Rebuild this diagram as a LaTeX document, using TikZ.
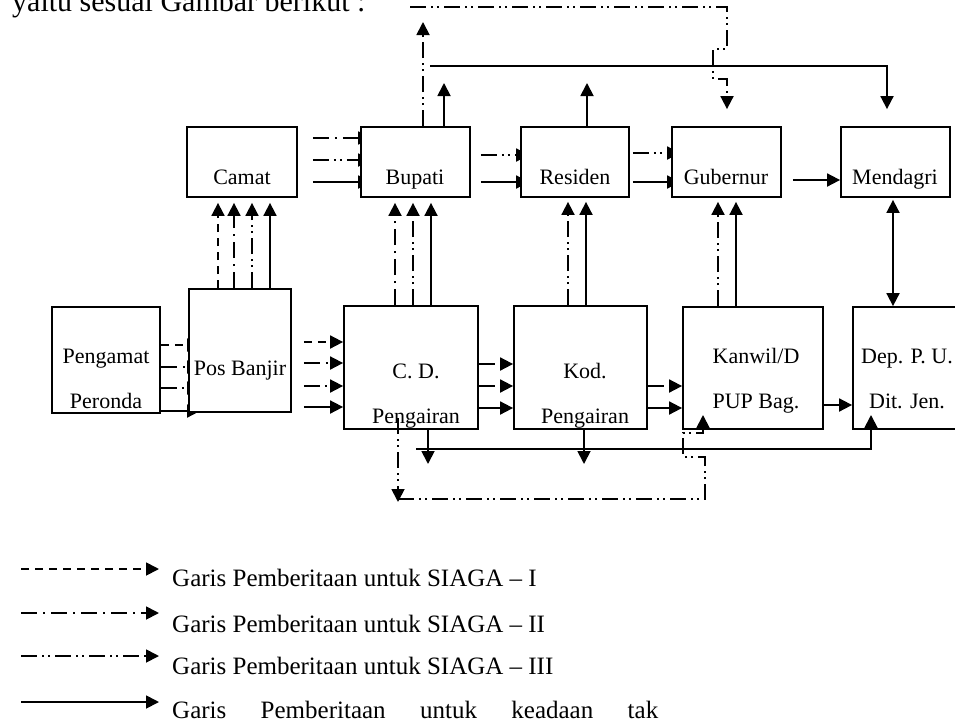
\documentclass[tikz,border=0pt]{standalone}
\usepackage{fontspec}
\setmainfont{Liberation Serif}
\usetikzlibrary{arrows.meta,backgrounds}
\begin{document}
\begin{tikzpicture}[x=1pt,y=-1pt,
  box/.style={draw, line width=1.8pt, fill=white, inner sep=0pt},
  lbl/.style={font=\fontsize{22}{26}\selectfont, anchor=base, inner sep=0pt},
  leg/.style={font=\fontsize{25}{30}\selectfont, anchor=base west, inner sep=0pt},
  ln/.style={line width=1.8pt},
  s0/.style={ln},
  s1/.style={ln, dash pattern=on 8pt off 6pt},
  s2/.style={ln, dash pattern=on 16pt off 6pt on 2pt off 6pt},
  s3/.style={ln, dash pattern=on 16pt off 5pt on 2pt off 4pt on 2pt off 5pt},
  arr/.style={-{Triangle[length=13pt,width=13pt]}},
  darr/.style={{Triangle[length=13pt,width=13pt]}-{Triangle[length=13pt,width=13pt]}}
]
\useasboundingbox (0,0) rectangle (955,726);

\node[anchor=base west, font=\fontsize{30}{36}\selectfont, inner sep=0pt] (intro) at (12,11) {yaitu sesuai Gambar berikut :};

% boxes
\node[box, minimum width=110pt, minimum height=70pt] (camat) at (242,162) {};
\node[box, minimum width=109pt, minimum height=70pt] (bupati) at (415.5,162) {};
\node[box, minimum width=108pt, minimum height=70pt] (residen) at (575,162) {};
\node[box, minimum width=109pt, minimum height=70pt] (gubernur) at (726.5,162) {};
\node[box, minimum width=109pt, minimum height=70pt] (mendagri) at (895.5,162) {};
\node[box, minimum width=108pt, minimum height=106pt] (pengamat) at (106,360) {};
\node[box, minimum width=102pt, minimum height=123pt] (posbanjir) at (240,350.5) {};
\node[box, minimum width=134pt, minimum height=123pt] (cd) at (411,367.5) {};
\node[box, minimum width=133pt, minimum height=123pt] (kod) at (580.5,367.5) {};
\node[box, minimum width=140pt, minimum height=122pt] (kanwil) at (753,368) {};
\node[box, minimum width=110pt, minimum height=122pt] (dep) at (908,368) {};

% labels
\node[lbl] (camatT) at (242,184) {Camat};
\node[lbl] (bupatiT) at (415,184) {Bupati};
\node[lbl] (residenT) at (575,184) {Residen};
\node[lbl] (gubernurT) at (726,184) {Gubernur};
\node[lbl] (mendagriT) at (895,184) {Mendagri};
\node[lbl] (pengamatT1) at (106,363) {Pengamat};
\node[lbl] (pengamatT2) at (106,408) {Peronda};
\node[lbl] (posbanjirT) at (240,375) {Pos Banjir};
\node[lbl] (cdT1) at (416,378) {C. D.};
\node[lbl] (cdT2) at (416,423) {Pengairan};
\node[lbl] (kodT1) at (585,378) {Kod.};
\node[lbl] (kodT2) at (585,423) {Pengairan};
\node[lbl] (kanwilT1) at (756,363) {Kanwil/D};
\node[lbl] (kanwilT2) at (756,408) {PUP Bag.};
\node[lbl] (depT1) at (907,363) {Dep. P. U.};
\node[lbl] (depT2) at (907,408) {Dit. Jen.};

% connectors whose heads hide under the boxes
\begin{scope}[on background layer]
\draw[s1,arr,shorten >=-12pt] (pengamat.east |- 0,345) -- (posbanjir.west |- 0,345);
\draw[s2,arr,shorten >=-12pt] (pengamat.east |- 0,367) -- (posbanjir.west |- 0,367);
\draw[s3,arr,shorten >=-12pt] (pengamat.east |- 0,388) -- (posbanjir.west |- 0,388);
\draw[s0,arr,shorten >=-12pt] (pengamat.east |- 0,411) -- (posbanjir.west |- 0,411);
\draw[s2,arr,shorten <=15pt,shorten >=-11pt] (camat.east |- 0,138) -- (bupati.west |- 0,138);
\draw[s3,arr,shorten <=15pt,shorten >=-11pt] (camat.east |- 0,160) -- (bupati.west |- 0,160);
\draw[s0,arr,shorten <=15pt,shorten >=-11pt] (camat.east |- 0,182) -- (bupati.west |- 0,182);
\draw[s3,arr,shorten <=10pt,shorten >=-9pt] (bupati.east |- 0,155) -- (residen.west |- 0,155);
\draw[s0,arr,shorten <=10pt,shorten >=-9pt] (bupati.east |- 0,182) -- (residen.west |- 0,182);
\draw[s3,arr,shorten <=3pt,shorten >=-9pt] (residen.east |- 0,153) -- (gubernur.west |- 0,153);
\draw[s0,arr,shorten <=3pt,shorten >=-9pt] (residen.east |- 0,182) -- (gubernur.west |- 0,182);
\end{scope}

% Pos Banjir -> C.D.
\draw[s1,arr,shorten <=12pt] (posbanjir.east |- 0,342) -- (cd.west |- 0,342);
\draw[s2,arr,shorten <=12pt] (posbanjir.east |- 0,363) -- (cd.west |- 0,363);
\draw[s3,arr,shorten <=12pt] (posbanjir.east |- 0,386) -- (cd.west |- 0,386);
\draw[s0,arr,shorten <=12pt] (posbanjir.east |- 0,407) -- (cd.west |- 0,407);
% C.D. -> Kod
\draw[s2,arr] (cd.east |- 0,364) -- (kod.west |- 0,364);
\draw[s3,arr] (cd.east |- 0,386) -- (kod.west |- 0,386);
\draw[s0,arr] (cd.east |- 0,408) -- (kod.west |- 0,408);
% Kod -> Kanwil
\draw[s3,arr] (kod.east |- 0,386) -- (kanwil.west |- 0,386);
\draw[s0,arr] (kod.east |- 0,408) -- (kanwil.west |- 0,408);
% Kanwil -> Dep
\draw[s0,arr] (kanwil.east |- 0,405) -- (dep.west |- 0,405);
% Gubernur -> Mendagri
\draw[s0,arr,shorten <=11pt] (gubernur.east |- 0,180) -- (mendagri.west |- 0,180);

% upward
\draw[s1,arr,shorten >=5pt] (218,0 |- posbanjir.north) -- (218,0 |- camat.south);
\draw[s2,arr,shorten >=5pt] (234,0 |- posbanjir.north) -- (234,0 |- camat.south);
\draw[s3,arr,shorten >=5pt] (252,0 |- posbanjir.north) -- (252,0 |- camat.south);
\draw[s0,arr,shorten >=5pt] (270,0 |- posbanjir.north) -- (270,0 |- camat.south);
\draw[s2,arr,shorten >=5pt] (395,0 |- cd.north) -- (395,0 |- bupati.south);
\draw[s3,arr,shorten >=5pt] (413,0 |- cd.north) -- (413,0 |- bupati.south);
\draw[s0,arr,shorten >=5pt] (431,0 |- cd.north) -- (431,0 |- bupati.south);
\draw[s3,arr,shorten >=4pt] (568,0 |- kod.north) -- (568,0 |- residen.south);
\draw[s0,arr,shorten >=4pt] (586,0 |- kod.north) -- (586,0 |- residen.south);
\draw[s3,arr,shorten >=4pt] (718,0 |- kanwil.north) -- (718,0 |- gubernur.south);
\draw[s0,arr,shorten >=4pt] (736,0 |- kanwil.north) -- (736,0 |- gubernur.south);
\draw[s0,darr,shorten <=2pt] (893,0 |- mendagri.south) -- (893,0 |- dep.north);

% top
\coordinate (bupUp3) at (423,22);
\coordinate (bupUp0) at (444,83);
\coordinate (resUp0) at (587,83);
\coordinate (topS) at (430,66);
\coordinate (topE) at (887,66);
\coordinate (t3a) at (410,7);
\coordinate (t3b) at (727,7);
\draw[s3,arr] (423,0 |- bupati.north) -- (bupUp3);
\draw[s0,arr] (444,0 |- bupati.north) -- (bupUp0);
\draw[s0,arr] (587,0 |- residen.north) -- (resUp0);
\draw[s0,arr,shorten >=17pt] (topS) -- (topE) -- (topE |- mendagri.north);
\draw[s3,arr,shorten >=17pt] (t3a) -- (t3b) -- (727,49) -- (713,49) -- (713,79) -- (727,79) -- (t3b |- gubernur.north);

% bottom
\coordinate (cdDown) at (428,464);
\coordinate (kodDown) at (584,464);
\coordinate (botS) at (416,449);
\coordinate (botE) at (871,449);
\coordinate (depIn) at (871,415);
\coordinate (loopA) at (398,418);
\coordinate (loopB) at (398,502);
\coordinate (loopC) at (398,499);
\coordinate (kanIn) at (703,415);
\draw[s0,arr] (428,0 |- cd.south) -- (cdDown);
\draw[s0,arr] (584,0 |- kod.south) -- (kodDown);
\draw[s0,arr] (botS) -- (botE) -- (depIn);
\draw[s3,arr] (loopA) -- (loopB);
\draw[s3,arr] (loopC) -- (705,499) -- (705,457) -- (683,457) -- (683,433) -- (703,433) -- (kanIn);

% legend
\coordinate (l1a) at (21,569); \coordinate (l1b) at (159,569);
\coordinate (l2a) at (21,613); \coordinate (l2b) at (159,613);
\coordinate (l3a) at (21,656); \coordinate (l3b) at (159,656);
\coordinate (l4a) at (21,702); \coordinate (l4b) at (159,702);
\draw[s1,arr] (l1a) -- (l1b);
\draw[s2,arr] (l2a) -- (l2b);
\draw[s3,arr] (l3a) -- (l3b);
\draw[s0,arr] (l4a) -- (l4b);
\node[leg] (l1t) at (172,586) {Garis Pemberitaan untuk SIAGA – I};
\node[leg] (l2t) at (172,632) {Garis Pemberitaan untuk SIAGA – II};
\node[leg] (l3t) at (172,674) {Garis Pemberitaan untuk SIAGA – III};
\node[leg] (l4t) at (172,718) {\makebox[486pt][s]{Garis Pemberitaan untuk keadaan tak}};
\end{tikzpicture}
\end{document}
